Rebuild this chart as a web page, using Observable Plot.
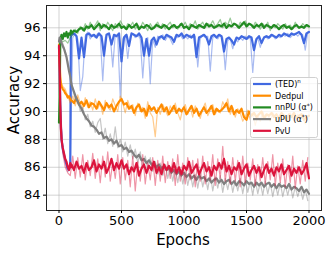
<!DOCTYPE html>
<html><head><meta charset="utf-8">
<script src="https://cdn.jsdelivr.net/npm/d3@7"></script>
<script src="https://cdn.jsdelivr.net/npm/@observablehq/plot@0.6"></script>
<style>body{margin:0;background:#fff}</style>
</head><body><div id="chart"></div>
<script>
const seriesNames = ["(TED)", "Dedpul", "nnPU (α", "uPU (α", "PvU"];
const colors = ["#4169E1", "#FF8C00", "#228B22", "#808080", "#DC143C"];
const xTicks = [0, 500, 1000, 1500, 2000];
const yTicks = [84, 86, 88, 90, 92, 94, 96];

const mainEpochs = [0,5,10,15,20,30,40,50,60,70,80,90,95].concat(d3.range(100, 2001, 20));
const faintEpochs = d3.range(10, 2000, 20);

const tedMain = [94.6,93.0,90.5,89.0,88.0,87.3,86.9,86.5,86.2,85.9,86.0,86.2,95.4,
95.5,95.6,95.4,93.8,95.3,93.9,95.5,95.6,95.4,95.5,95.3,95.6,95.4,94.0,95.5,95.6,94.8,95.5,95.4,95.6,
93.6,95.3,95.5,94.7,95.6,95.5,95.4,95.6,95.3,94.0,95.2,94.0,95.1,95.3,94.8,95.3,95.4,95.2,95.5,95.4,
95.3,95.0,95.5,95.4,95.6,95.3,95.5,95.4,95.3,95.5,93.9,95.3,95.4,95.5,95.3,94.8,95.4,95.5,95.3,95.5,
95.4,94.3,95.2,95.3,95.1,94.8,95.3,95.2,95.4,95.3,95.2,95.4,95.3,94.4,95.2,95.4,94.9,95.3,95.4,95.3,
95.5,95.4,95.3,95.5,95.4,95.6,95.5,95.4,95.6,95.5,95.6,95.7,95.5,94.9,95.6,95.7];
const tedFaint = [90.0,87.5,86.4,85.7,85.9,95.3,95.6,95.2,91.5,92.5,
95.4,95.7,95.2,95.5,95.3,95.6,95.4,92.2,95.3,95.6,
95.4,93.2,95.5,95.3,91.0,95.2,95.5,93.8,95.4,95.6,
95.3,95.5,95.2,92.4,95.0,95.3,92.0,95.2,94.6,95.4,
95.2,95.5,95.1,95.4,95.2,94.8,95.4,95.3,95.5,95.2,
95.4,95.2,95.5,95.3,95.4,93.2,95.2,95.5,95.3,95.4,
92.9,95.3,95.4,95.2,95.5,95.3,93.0,95.1,95.2,94.5,
95.2,95.0,95.3,95.1,95.4,95.2,95.3,92.8,95.1,95.3,
94.6,95.2,95.4,95.2,95.3,95.5,95.2,95.4,95.3,95.5,
95.4,95.6,95.3,95.5,95.6,95.4,95.6,95.5,94.4,95.7];

const dedpulMain = [94.8,93.5,92.5,92.0,91.8,91.6,91.5,91.3,91.2,91.0,91.1,90.9,90.8,
90.8,90.6,91.0,90.5,90.7,90.4,90.8,90.3,90.6,90.5,90.2,90.7,90.4,90.1,90.6,90.3,90.5,90.0,90.4,90.7,
90.9,90.5,90.6,90.2,90.4,89.9,90.3,90.5,90.0,90.2,89.7,90.4,90.1,90.3,89.9,90.2,90.5,90.0,90.3,89.8,
90.1,90.4,89.9,90.2,90.0,90.3,89.8,90.1,90.4,89.9,90.2,89.7,90.0,90.3,89.9,90.1,90.4,89.8,90.2,90.0,
90.1,90.3,90.6,90.0,90.4,89.8,90.1,89.9,90.2,89.6,89.4,90.0,89.7,89.9,89.6,89.8,90.0,89.5,89.8,89.7,
89.9,89.6,89.8,89.5,89.9,89.7,89.4,89.8,89.6,89.9,89.5,89.7,89.8,89.4,89.6,89.7];
const dedpulFaint = [92.3,91.8,91.6,91.1,90.6,91.1,90.4,91.2,90.6,90.2,
91.0,90.3,90.7,90.1,90.9,90.2,90.6,89.8,90.8,90.3,
90.1,90.9,90.4,90.0,91.1,90.6,89.9,90.8,90.2,90.5,
89.7,90.6,90.0,90.3,89.5,90.7,89.9,89.6,88.2,90.3,
89.8,90.5,90.1,89.7,90.4,90.0,90.6,89.9,89.4,90.2,
90.5,89.8,90.3,89.6,90.4,90.0,89.5,90.2,90.6,89.7,
90.1,90.5,89.8,90.2,89.9,90.7,90.3,90.9,89.8,90.3,
89.6,90.2,89.9,89.3,89.6,90.1,89.4,89.9,89.0,89.7,
89.3,90.0,89.5,89.8,89.3,89.9,89.6,89.2,89.8,89.4,
89.7,89.3,89.9,89.5,89.2,89.8,89.4,89.6,89.1,89.5];

const nnpuMain = [89.2,91.0,95.0,95.3,95.5,95.2,95.6,95.4,95.7,95.3,95.6,95.5,95.8,
95.6,95.8,95.7,95.9,96.0,95.8,96.1,96.0,96.2,95.9,96.1,96.3,96.0,96.2,96.1,95.9,96.2,96.0,96.1,96.3,
96.0,96.1,95.9,96.2,96.0,96.1,96.3,95.9,96.1,96.0,96.2,96.1,95.9,96.0,96.2,96.1,96.0,96.2,96.1,95.9,
96.1,96.2,96.0,96.1,96.3,96.0,96.1,95.9,96.2,96.1,96.0,96.2,96.1,96.0,96.3,96.1,96.2,96.0,96.1,96.2,
96.1,96.3,96.0,96.2,96.1,96.3,96.2,96.0,96.2,96.4,96.1,96.3,96.2,96.0,96.2,96.1,96.3,96.0,96.2,96.1,
96.0,96.2,96.1,95.9,96.1,96.2,96.0,96.1,95.9,96.1,96.2,96.0,96.1,96.0,96.2,96.1];
const nnpuFaint = [95.2,95.0,95.1,94.9,95.3,95.5,95.9,95.6,96.1,95.8,
96.3,95.9,96.4,96.0,96.2,96.5,95.8,96.3,96.0,96.4,
96.1,95.8,96.3,96.0,96.5,96.2,95.9,96.3,96.1,96.4,
95.9,96.2,96.0,96.4,96.1,95.8,96.3,96.0,96.2,96.4,
96.0,96.3,95.9,96.2,96.4,96.0,96.2,95.9,96.3,96.1,
96.4,96.0,96.3,96.1,96.5,95.9,96.2,96.4,96.0,96.3,
96.2,96.5,96.1,96.3,96.6,96.0,96.4,96.2,96.7,96.1,
96.3,96.0,96.4,96.2,96.5,96.1,96.3,96.0,96.4,96.2,
95.9,96.3,96.1,96.4,95.8,96.2,96.0,96.3,96.1,95.9,
96.3,96.0,96.2,95.9,96.4,96.1,96.0,96.3,96.1,96.2];

const upuMain = [95.0,95.3,95.2,95.0,94.9,94.7,94.5,94.2,93.9,93.4,92.9,92.5,92.2,
91.9,91.4,90.9,90.5,90.2,89.8,89.5,89.3,89.0,88.9,88.7,88.4,88.5,88.1,88.2,87.9,88.0,87.7,87.9,87.5,
87.6,87.3,87.4,87.1,87.2,86.9,86.7,86.9,86.5,86.6,86.3,86.5,86.2,86.3,86.0,86.2,85.9,86.1,85.8,85.9,
85.6,85.8,85.5,85.7,85.4,85.6,85.3,85.5,85.2,85.4,85.1,85.4,85.2,85.3,85.0,85.2,84.9,85.1,85.2,84.9,
85.1,84.8,85.0,85.1,84.8,85.0,84.7,85.0,84.9,84.7,85.0,84.8,84.9,84.6,84.9,84.7,84.9,84.6,84.8,84.9,
84.6,84.8,84.5,84.8,84.6,84.7,84.5,84.8,84.4,84.6,84.5,84.3,84.6,84.2,84.4,84.1];
const upuFaint = [95.3,94.9,94.3,93.6,92.6,91.7,90.8,90.9,90.0,90.3,
89.4,89.8,88.9,89.3,88.5,89.2,89.5,88.0,88.8,87.7,
88.4,87.5,88.9,87.4,88.0,87.1,87.8,86.8,87.6,86.6,
87.3,86.3,87.1,86.0,86.8,85.9,86.7,85.7,86.4,85.5,
86.3,85.4,86.2,85.2,86.0,85.0,85.9,84.9,85.8,84.8,
85.7,84.7,85.6,84.6,85.5,84.5,85.6,84.6,85.4,84.4,
85.5,84.3,85.3,84.5,85.4,84.2,85.2,84.4,85.3,84.2,
85.1,84.3,85.2,84.1,85.1,84.2,85.0,84.0,85.1,84.1,
84.9,84.0,85.0,84.1,84.9,83.9,84.8,84.0,84.9,83.9,
84.7,84.0,84.8,83.8,84.6,83.9,84.5,83.7,84.4,83.6];

const pvuMain = [94.7,93.0,90.5,88.8,88.0,87.4,87.0,86.6,86.4,86.0,85.8,86.3,86.0,
86.2,85.8,86.4,85.9,86.1,85.6,86.3,85.8,86.0,86.5,85.7,86.2,85.9,86.4,85.6,86.0,86.6,85.8,86.3,85.9,
86.5,85.9,86.2,85.5,86.0,85.7,86.3,85.4,85.9,86.2,85.6,86.1,85.8,86.4,85.6,86.0,85.5,86.2,85.8,86.1,
85.7,86.3,85.6,86.0,85.5,86.1,85.8,86.4,85.6,85.9,86.2,85.5,85.9,86.3,85.7,86.0,85.4,86.1,85.8,86.3,
85.9,86.6,85.7,86.1,85.5,86.0,85.8,86.3,85.5,85.9,86.2,85.4,85.8,86.1,85.6,86.0,85.3,85.8,86.2,85.6,
85.9,85.4,86.0,85.7,86.2,85.5,85.8,86.1,85.4,85.9,85.6,86.0,85.5,85.8,86.3,85.2];
const pvuFaint = [91.0,87.0,86.0,85.6,85.4,86.8,85.2,86.7,85.3,86.9,
85.1,86.5,85.4,87.0,85.2,86.6,84.9,86.8,85.3,87.1,
85.0,86.4,85.2,86.9,84.8,86.7,85.1,86.5,84.6,86.8,
84.3,86.4,85.0,86.9,84.8,86.3,85.1,86.7,84.7,86.5,
85.0,86.8,84.9,86.4,85.2,86.6,84.7,86.9,85.0,86.3,
84.8,86.7,85.1,86.5,84.6,86.6,85.0,86.8,84.8,86.4,
85.1,86.9,84.7,86.6,85.2,87.5,85.0,86.4,84.8,86.7,
85.0,86.5,84.6,86.8,84.9,86.3,85.1,86.6,84.7,86.2,
85.0,86.7,84.8,86.4,85.1,86.9,84.7,86.3,84.9,86.6,
84.6,86.2,84.9,86.8,84.5,86.1,84.8,86.5,85.0,86.7];

const mainValues = [tedMain, dedpulMain, nnpuMain, upuMain, pvuMain];
const faintValues = [tedFaint, dedpulFaint, nnpuFaint, upuFaint, pvuFaint];

const marks = [
  Plot.gridX(xTicks, {stroke: "#b0b0b0", strokeOpacity: 0.7, strokeWidth: 0.8}),
  Plot.gridY(yTicks, {stroke: "#b0b0b0", strokeOpacity: 0.7, strokeWidth: 0.8})
];
seriesNames.forEach((name, k) => {
  const faint = faintEpochs.map((e, i) => ({epoch: e, acc: faintValues[k][i]}));
  const main = mainEpochs.map((e, i) => ({epoch: e, acc: mainValues[k][i]}));
  marks.push(Plot.line(faint, {x: "epoch", y: "acc", stroke: colors[k], strokeOpacity: 0.45, strokeWidth: 1.2}));
  marks.push(Plot.line(main, {x: "epoch", y: "acc", stroke: colors[k], strokeWidth: 2.2}));
});
marks.push(Plot.frame({stroke: "#222", strokeWidth: 1}));
marks.push(Plot.axisX(xTicks, {tickSize: 3, tickPadding: 2, fontSize: 13, label: null, fill: "black", tickFormat: d => String(d)}));
marks.push(Plot.axisY(yTicks, {tickSize: 3, tickPadding: 3, fontSize: 13, label: null, fill: "black", tickFormat: d => String(d)}));

const svg = Plot.plot({
  width: 332, height: 253,
  marginLeft: 46, marginRight: 11, marginTop: 5, marginBottom: 43,
  style: {fontFamily: "DejaVu Sans", fontSize: "13px", color: "black", background: "white"},
  x: {domain: [-100, 2100], label: null},
  y: {domain: [82.9, 97.6], label: null},
  marks
});

const s = d3.select(svg);
s.append("text").attr("x", 183).attr("y", 245).attr("text-anchor", "middle")
  .style("font", "15px 'DejaVu Sans'").attr("fill", "black").text("Epochs");
s.append("text").attr("transform", "translate(19,100) rotate(-90)").attr("text-anchor", "middle")
  .style("font", "15px 'DejaVu Sans'").attr("fill", "black").text("Accuracy");

const lg = s.append("g").style("font", "8px 'DejaVu Sans'").attr("text-anchor", "start");
lg.append("rect").attr("x", 250.5).attr("y", 77.5).attr("width", 67).attr("height", 60)
  .attr("rx", 2).attr("fill", "white").attr("fill-opacity", 0.8).attr("stroke", "#d0d0d0");
seriesNames.forEach((name, k) => {
  const y = 84 + k * 11.7;
  lg.append("line").attr("x1", 253).attr("x2", 271).attr("y1", y).attr("y2", y)
    .attr("stroke", colors[k]).attr("stroke-width", 2.2);
  const t = lg.append("text").attr("x", 275).attr("y", y).attr("dy", "0.35em")
    .attr("fill", "black").attr("text-anchor", "start");
  t.append("tspan").text(name);
  if (k === 0) t.append("tspan").attr("dy", "-3.5").style("font-size", "5.5px").text("n");
  if (k === 2 || k === 3) {
    t.append("tspan").attr("dy", "-2.5").style("font-size", "6px").text("*");
    t.append("tspan").attr("dy", "2.5").text(")");
  }
});

document.getElementById("chart").appendChild(svg);
</script>
</body></html>
